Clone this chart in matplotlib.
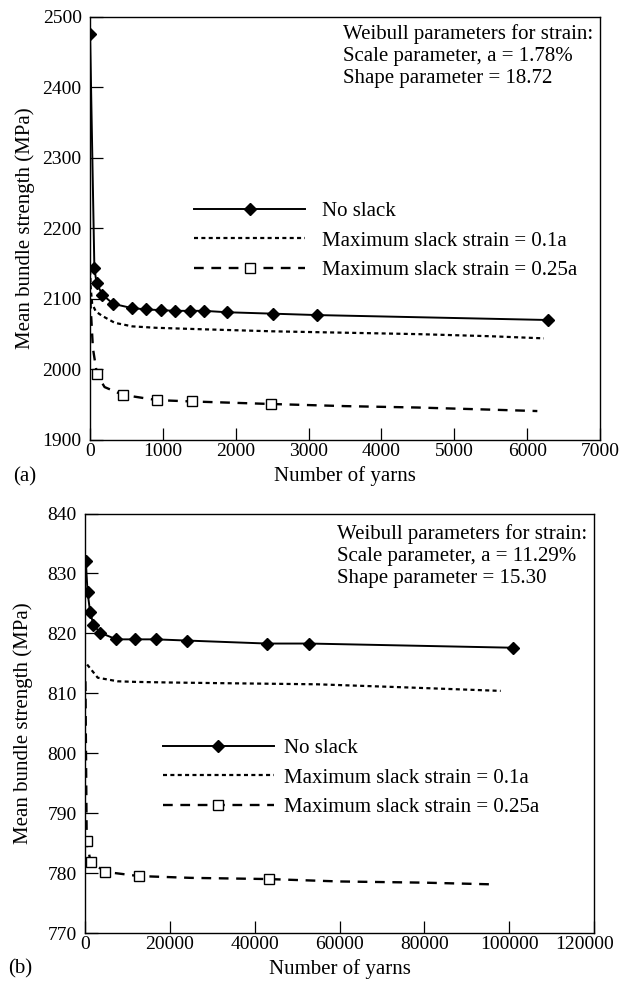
import matplotlib
matplotlib.use("Agg")
import matplotlib.pyplot as plt
from matplotlib.transforms import ScaledTranslation

plt.rcParams['font.family'] = ['Liberation Serif', 'DejaVu Serif']
plt.rcParams['font.size'] = 15
plt.rcParams['lines.scale_dashes'] = False

# ---------------- data: panel (a) ----------------
a_ns_x = [1, 60, 90, 170, 316, 570, 766, 972, 1168, 1374, 1566, 1878, 2505, 3115, 6290]
a_ns_y = [2475, 2144, 2122, 2106, 2093, 2087, 2085, 2084, 2083, 2083, 2083, 2081, 2079, 2077, 2070]

a_s1_x = [2, 10, 30, 80, 165, 340, 580, 900, 1500, 2500, 3500, 4500, 5500, 6230]
a_s1_y = [2140, 2115, 2093, 2082, 2076, 2066, 2061, 2059, 2057, 2054, 2052, 2050, 2047, 2044]

a_s2_x = [3, 40, 96, 200, 449, 920, 1401, 2490, 3500, 4500, 5500, 6140]
a_s2_y = [2100, 2030, 1993, 1975, 1964, 1956.5, 1954.6, 1951, 1948, 1946, 1943, 1941]
a_s2_marks = [2, 4, 5, 6, 7]

a_xticks = [0, 1000, 2000, 3000, 4000, 5000, 6000, 7000]
a_yticks = [1900, 2000, 2100, 2200, 2300, 2400, 2500]
a_text = ["Weibull parameters for strain:",
          "Scale parameter, a = 1.78%",
          "Shape parameter = 18.72"]

# ---------------- data: panel (b) ----------------
b_ns_x = [200, 600, 1200, 2000, 3600, 7400, 11900, 16700, 24000, 42900, 52900, 101000]
b_ns_y = [832.0, 826.9, 823.6, 821.4, 820.1, 819.0, 819.0, 819.0, 818.8, 818.3, 818.3, 817.6]

b_s1_x = [500, 3000, 7700, 12000, 20000, 30800, 54700, 75000, 98000]
b_s1_y = [814.8, 812.6, 812.0, 811.9, 811.8, 811.7, 811.5, 811.0, 810.4]

b_s2_x = [100, 400, 1300, 4800, 12700, 25000, 43300, 60000, 80000, 97000]
b_s2_y = [812.0, 785.3, 781.9, 780.2, 779.5, 779.2, 779.0, 778.6, 778.4, 778.1]
b_s2_marks = [1, 2, 3, 4, 6]

b_xticks = [0, 20000, 40000, 60000, 80000, 100000, 120000]
b_yticks = [770, 780, 790, 800, 810, 820, 830, 840]
b_text = ["Weibull parameters for strain:",
          "Scale parameter, a = 11.29%",
          "Shape parameter = 15.30"]

labels = ["No slack", "Maximum slack strain = 0.1a", "Maximum slack strain = 0.25a"]

fig = plt.figure(figsize=(6.19, 9.86), dpi=100)


def panel(ax, ns, s1, s2, marks, xticks, yticks, text, leg_anchor, text_y, ylab_x,
          tag, textpad):
    ax.plot(ns[0], ns[1], color='black', lw=1.4, marker='D', markersize=5.8,
            markerfacecolor='black', markeredgecolor='black', label=labels[0])
    ax.plot(s1[0], s1[1], color='black', lw=1.6, dashes=(2.9, 2.4), label=labels[1])
    ax.plot(s2[0], s2[1], color='black', lw=1.7, dashes=(7, 5.5), marker='s',
            markersize=6.5, markerfacecolor='white', markeredgecolor='black',
            markeredgewidth=1.0, markevery=marks, label=labels[2])
    ax.set_xlim(xticks[0], xticks[-1])
    ax.set_ylim(yticks[0], yticks[-1])
    ax.set_xticks(xticks)
    ax.set_yticks(yticks)
    ax.tick_params(direction='in', length=9, width=0.9, top=False, right=False,
                   labelsize=14)
    ax.tick_params(axis='x', pad=2)
    ax.tick_params(axis='y', pad=6)
    for s in ax.spines.values():
        s.set_linewidth(1.0)
    ax.legend(loc='upper left', bbox_to_anchor=leg_anchor, frameon=False,
              borderpad=0, borderaxespad=0, handlelength=5.33, handletextpad=textpad,
              labelspacing=0.48, numpoints=1, fontsize=15)
    for t, yy in zip(text, text_y):
        ax.text(0.496, yy, t, transform=ax.transAxes, ha='left', va='center', fontsize=15)
    ax.text(ylab_x, 0.5, "Mean bundle strength (MPa)", transform=ax.transAxes,
            rotation=90, ha='center', va='center', fontsize=15)
    ax.text(0.5, -0.086, "Number of yarns", transform=ax.transAxes,
            ha='center', va='center', fontsize=15)
    ax.text(-0.128, -0.086, tag, transform=ax.transAxes,
            ha='center', va='center', fontsize=15)


ax1 = fig.add_axes([90 / 619, 1 - 440 / 986, 510 / 619, (440 - 16.5) / 986])
panel(ax1, (a_ns_x, a_ns_y), (a_s1_x, a_s1_y), (a_s2_x, a_s2_y), a_s2_marks,
      a_xticks, a_yticks, a_text, (0.204, 0.563),
      [(440 - 34) / 423.5, (440 - 56) / 423.5, (440 - 78) / 423.5], -0.127, "(a)", 0.82)

ax2 = fig.add_axes([85 / 619, 1 - 933 / 986, 509 / 619, (933 - 513.5) / 986])
panel(ax2, (b_ns_x, b_ns_y), (b_s1_x, b_s1_y), (b_s2_x, b_s2_y), b_s2_marks,
      b_xticks, b_yticks, b_text, (0.153, 0.4636),
      [(933 - 534) / 419.5, (933 - 556) / 419.5, (933 - 578) / 419.5], -0.122, "(b)", 0.5)

# the last x tick label of panel (b) sits a little left of its tick in the reference
last = ax2.xaxis.get_major_ticks()[-1].label1
last.set_transform(last.get_transform() + ScaledTranslation(-0.09, 0, fig.dpi_scale_trans))

fig.savefig("out.png", dpi=100)
